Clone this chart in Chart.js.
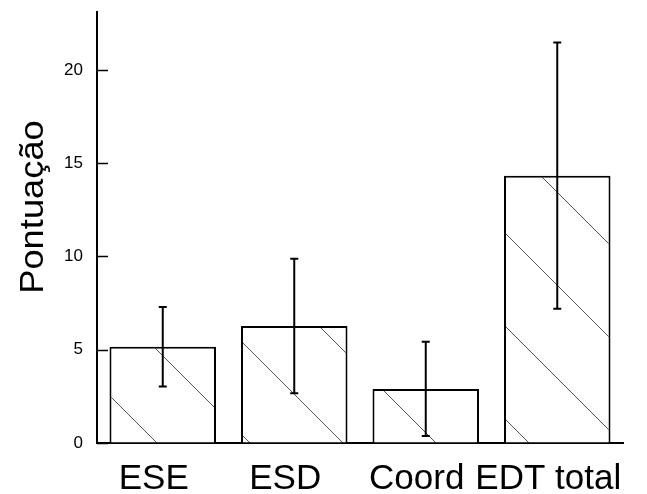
<!DOCTYPE html>
<html>
<head>
<meta charset="utf-8">
<script src="https://cdn.jsdelivr.net/npm/chart.js@4.4.1/dist/chart.umd.min.js"></script>
<style>
    html, body { margin: 0; padding: 0; background: #fff; }
    #wrap { position: relative; width: 647px; height: 494px; }
</style>
</head>
<body>
<div id="wrap"><canvas id="chart" width="647" height="494"></canvas></div>
<script>
const categories = ['ESE', 'ESD', 'Coord', 'EDT total'];
const means = [5.16, 6.27, 2.9, 14.33];
const errors = [2.13, 3.6, 2.52, 7.13];
const yTicks = [0, 5, 10, 15, 20];
const yTitle = 'Pontuação';

const FONT = "'Liberation Sans', Arial, sans-serif";

// diagonal hatch, anchored to the canvas origin
function makeHatch() {
    const size = 93;
    const c = document.createElement('canvas');
    c.width = size;
    c.height = size;
    const g = c.getContext('2d');
    g.fillStyle = '#fff';
    g.fillRect(0, 0, size, size);
    g.strokeStyle = '#555';
    g.lineWidth = 1;
    for (let k = -1; k <= 1; k++) {
        g.beginPath();
        g.moveTo(-10, -10 + 7 + k * size);
        g.lineTo(size + 10, size + 10 + 7 + k * size);
        g.stroke();
    }
    return g.createPattern(c, 'repeat');
}

const errorBars = {
    id: 'errorBars',
    afterDatasetsDraw(chart) {
        const { ctx, scales: { x, y } } = chart;
        ctx.save();
        ctx.strokeStyle = '#000';
        ctx.lineWidth = 2;
        means.forEach((m, i) => {
            const px = x.getPixelForValue(i);
            const top = y.getPixelForValue(m + errors[i]);
            const bot = y.getPixelForValue(m - errors[i]);
            ctx.beginPath();
            ctx.moveTo(px, top);
            ctx.lineTo(px, bot);
            ctx.moveTo(px - 4, top);
            ctx.lineTo(px + 4, top);
            ctx.moveTo(px - 4, bot);
            ctx.lineTo(px + 4, bot);
            ctx.stroke();
        });
        ctx.restore();
    }
};

// tick marks pointing into the plot, plus the rotated axis title
const axisExtras = {
    id: 'axisExtras',
    afterDraw(chart) {
        const { ctx, scales: { y } } = chart;
        const left = chart.chartArea.left;
        ctx.save();
        ctx.strokeStyle = '#000';
        ctx.lineWidth = 1.5;
        yTicks.forEach(v => {
            const py = Math.round(y.getPixelForValue(v)) + 0.5;
            ctx.beginPath();
            ctx.moveTo(left, py);
            ctx.lineTo(left + 11, py);
            ctx.stroke();
        });
        ctx.translate(43, 207);
        ctx.rotate(-Math.PI / 2);
        ctx.scale(1.1, 1);
        ctx.fillStyle = '#000';
        ctx.font = '33px ' + FONT;
        ctx.textAlign = 'center';
        ctx.textBaseline = 'alphabetic';
        ctx.fillText(yTitle, 0, 0);
        ctx.restore();
    }
};

const ctx = document.getElementById('chart').getContext('2d');
new Chart(ctx, {
    type: 'bar',
    data: {
        labels: categories,
        datasets: [{
            data: means,
            backgroundColor: makeHatch(),
            borderColor: '#000',
            borderWidth: { top: 2, left: 2, right: 2, bottom: 0 },
            barPercentage: 0.81,
            categoryPercentage: 1
        }]
    },
    options: {
        responsive: false,
        animation: false,
        devicePixelRatio: 1,
        layout: { padding: { top: 12, right: 24, left: 0, bottom: 0 } },
        plugins: {
            legend: { display: false },
            tooltip: { enabled: false }
        },
        scales: {
            x: {
                grid: { display: false, drawTicks: false },
                border: { color: '#000', width: 2 },
                ticks: {
                    color: '#000',
                    font: { family: FONT, size: 35 },
                    padding: 15,
                    labelOffset: -9,
                    maxRotation: 0,
                    autoSkip: false
                },
                afterFit: s => { s.height = 51; s.paddingLeft = 0; s.paddingRight = 0; }
            },
            y: {
                min: 0,
                max: 23.1,
                grid: { drawOnChartArea: false, drawTicks: false },
                border: { color: '#000', width: 2 },
                ticks: {
                    stepSize: 5,
                    includeBounds: false,
                    color: '#000',
                    font: { family: FONT, size: 17 },
                    padding: 14
                },
                afterFit: s => { s.width = 97; s.paddingTop = 0; s.paddingBottom = 0; }
            }
        }
    },
    plugins: [errorBars, axisExtras]
});
</script>
</body>
</html>
